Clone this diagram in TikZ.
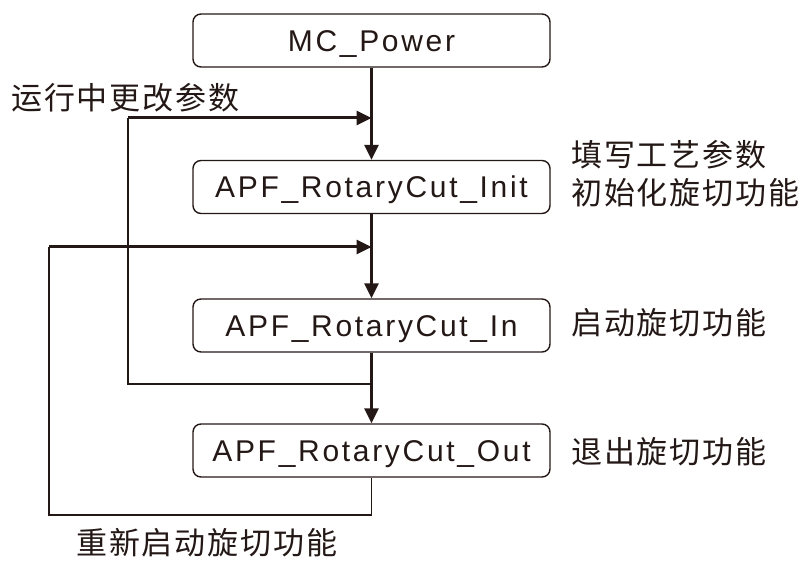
\documentclass[tikz,border=0pt]{standalone}
\usepackage{fontspec}
\usetikzlibrary{arrows.meta}
\newfontfamily\enf{Liberation Sans}[LetterSpace=9]
\newfontfamily\cjk{Noto Sans CJK SC}[LetterSpace=6]
\definecolor{ink}{RGB}{35,24,21}
\tikzset{
  box/.style={draw=ink, line width=1.4pt, rounded corners=8pt, minimum width=357pt, minimum height=53pt, inner sep=0pt, text height=21.5pt, text depth=0pt, text=ink, font=\enf\fontsize{30}{36}\selectfont},
  lbl/.style={inner sep=0pt, anchor=west, text=ink, align=left, font=\cjk\fontsize{31}{38}\selectfont},
  thick line/.style={draw=ink, line width=3pt},
  thin line/.style={draw=ink, line width=1.6pt},
  arr/.style={-{Triangle[length=15pt,width=14pt]}}
}
\begin{document}
\begin{tikzpicture}[x=1pt,y=-1pt]
\useasboundingbox (0,0) rectangle (808,561);
\node[box] (p) at (371.5,40.5) {MC\_Power};
\node[box] (i) at (371.5,187) {APF\_RotaryCut\_Init};
\node[box] (n) at (371.5,325.5) {APF\_RotaryCut\_In};
\node[box] (o) at (371.5,450.5) {APF\_RotaryCut\_Out};

\node[lbl] (l1) at (11,98) {运行中更改参数};
\node[lbl] (l2) at (571,174) {填写工艺参数\\初始化旋切功能};
\node[lbl] (l3) at (571,323) {启动旋切功能};
\node[lbl] (l4) at (571,452) {退出旋切功能};
\node[lbl] (l5) at (76,543) {重新启动旋切功能};

\coordinate (j1) at (371.5,118);
\coordinate (j2) at (371.5,247);
\coordinate (j3) at (371.5,384);

\draw[thick line, arr] (p.south) -- (i.north);
\draw[thick line, arr] (i.south) -- (n.north);
\draw[thick line, arr] (n.south) -- (o.north);

\draw[thin line] (j3) -- (128,384) -- (128,118);
\draw[thick line, arr] (128,118) -- (j1);

\draw[thin line] (o.south) -- (371.5,515) -- (49,515) -- (49,247);
\draw[thick line, arr] (49,247) -- (j2);
\end{tikzpicture}
\end{document}
